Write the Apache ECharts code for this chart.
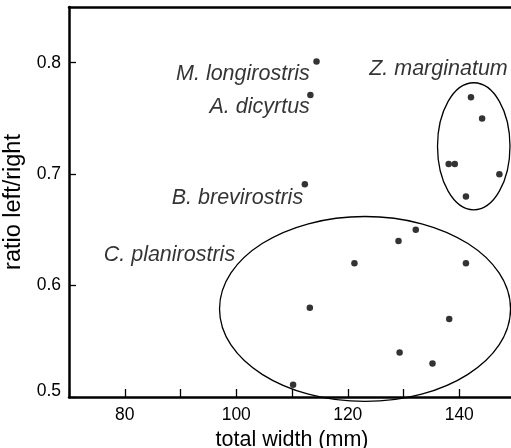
<!DOCTYPE html>
<html>
<head>
<meta charset="utf-8">
<script src="https://cdn.jsdelivr.net/npm/echarts@6/dist/echarts.min.js"></script>
<style>
html,body{margin:0;padding:0;background:#fff;}
#chart{width:511px;height:448px;}
</style>
</head>
<body>
<div id="chart"></div>
<script>
// Data points: total width (mm) vs ratio left/right
const pointX = [114.4, 113.3, 112.3,
  142.1, 144.1, 138.1, 139.2, 147.2, 141.2,
  132.2, 129.1, 121.2, 141.2, 113.2, 138.2, 129.3, 135.2, 110.2];
const pointY = [0.801, 0.771, 0.691,
  0.769, 0.750, 0.709, 0.709, 0.700, 0.680,
  0.650, 0.640, 0.620, 0.620, 0.580, 0.570, 0.540, 0.530, 0.511];

// Species labels (anchor = right end, vertical middle)
const labelNames = ['M. longirostris', 'A. dicyrtus', 'B. brevirostris', 'C. planirostris', 'Z. marginatum'];
const labelX = [113.2, 113.2, 112.0, 99.8, 148.7];
const labelY = [0.790, 0.760, 0.679, 0.627, 0.794];

// Group ellipses: centre x, centre y, radius x, radius y (data units)
const ellipseCX = [142.6, 123.1];
const ellipseCY = [0.725, 0.579];
const ellipseRX = [6.5, 26.1];
const ellipseRY = [0.057, 0.083];

// Axis ticks
const xTickLabels = [80, 100, 120, 140];
const yTickLabels = [0.5, 0.6, 0.7, 0.8];

const FONT = 'Liberation Sans';
const chart = echarts.init(document.getElementById('chart'));

chart.setOption({
  animation: false,
  backgroundColor: '#fff',
  grid: { left: 69, right: -4, top: 7, bottom: 51, containLabel: false, outerBoundsMode: 'none' },
  xAxis: [{
    type: 'value', min: 70, max: 150, interval: 10,
    name: 'total width (mm)', nameLocation: 'middle', nameGap: 27,
    nameTextStyle: { fontFamily: FONT, fontSize: 21.5, color: '#000' },
    axisLine: { show: true, onZero: false, lineStyle: { color: '#000', width: 2.5 } },
    axisTick: { show: true, inside: true, length: 8, lineStyle: { color: '#000', width: 1.3 } },
    axisLabel: {
      fontFamily: FONT, fontSize: 17.5, color: '#000', margin: 9,
      formatter: v => xTickLabels.indexOf(Math.round(v)) >= 0 ? String(Math.round(v)) : ''
    },
    splitLine: { show: false }
  }, {
    type: 'value', min: 70, max: 150, position: 'top',
    axisLine: { show: true, onZero: false, lineStyle: { color: '#000', width: 2.5 } },
    axisTick: { show: false }, axisLabel: { show: false }, splitLine: { show: false }
  }],
  yAxis: [{
    type: 'value', min: 0.5, max: 0.85, interval: 0.1,
    name: 'ratio left/right', nameLocation: 'middle', nameGap: 43,
    nameTextStyle: { fontFamily: FONT, fontSize: 23.5, color: '#000' },
    axisLine: { show: true, onZero: false, lineStyle: { color: '#000', width: 2.5 } },
    axisTick: { show: true, inside: true, length: 7, lineStyle: { color: '#000', width: 1.3 } },
    axisLabel: {
      fontFamily: FONT, fontSize: 17.5, color: '#000', margin: 8, showMaxLabel: false,
      formatter: v => {
        const r = Math.round(v * 10) / 10;
        if (!(yTickLabels.indexOf(r) >= 0 && Math.abs(v - r) < 1e-6)) return '';
        return r === yTickLabels[0] ? '{low|' + r.toFixed(1) + '}' : r.toFixed(1);
      },
      rich: { low: { fontFamily: FONT, fontSize: 17.5, color: '#000', padding: [0, 0, 12, 0] } }
    },
    splitLine: { show: false }
  }],
  series: [{
    type: 'custom',
    coordinateSystem: 'cartesian2d',
    clip: false,
    silent: true,
    data: ellipseCX.map((cx, i) => [cx, ellipseCY[i], ellipseRX[i], ellipseRY[i]]),
    encode: { x: 0, y: 1 },
    renderItem: (params, api) => {
      const c = api.coord([api.value(0), api.value(1)]);
      const s = api.size([api.value(2), api.value(3)]);
      return {
        type: 'ellipse',
        shape: { cx: c[0], cy: c[1], rx: s[0], ry: s[1] },
        style: { fill: null, stroke: '#000', lineWidth: 1.3 }
      };
    },
    z: 2
  }, {
    type: 'scatter',
    symbol: 'circle', symbolSize: 6.5,
    itemStyle: { color: '#000' },
    data: pointX.map((x, i) => [x, pointY[i]]),
    z: 3
  }, {
    type: 'scatter',
    symbol: 'circle', symbolSize: 0,
    silent: true,
    data: labelNames.map((n, i) => ({ name: n, value: [labelX[i], labelY[i]] })),
    label: {
      show: true, position: 'left', distance: 0, formatter: '{b}',
      fontFamily: FONT, fontStyle: 'italic', fontSize: 21.5, color: '#000'
    },
    z: 4
  }]
});
</script>
</body>
</html>
